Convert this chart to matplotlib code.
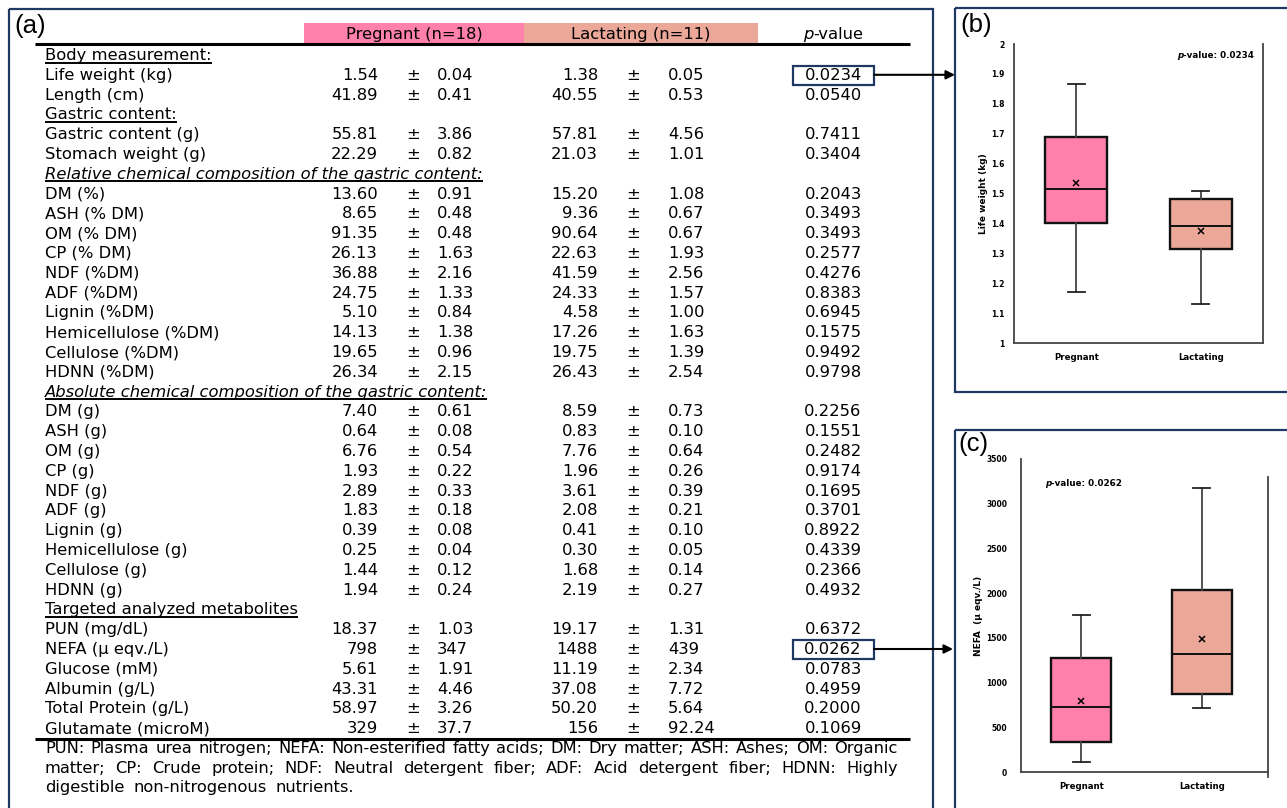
import matplotlib
matplotlib.use("Agg")
import matplotlib.pyplot as plt
from matplotlib.patches import Rectangle
from matplotlib.ticker import FuncFormatter, MultipleLocator

# ---------------- data ----------------
row_labels = [
    "Body measurement:", "Life weight (kg)", "Length (cm)",
    "Gastric content:", "Gastric content (g)", "Stomach weight (g)",
    "Relative chemical composition of the gastric content:",
    "DM (%)", "ASH (% DM)", "OM (% DM)", "CP (% DM)", "NDF (%DM)", "ADF (%DM)",
    "Lignin (%DM)", "Hemicellulose (%DM)", "Cellulose (%DM)", "HDNN (%DM)",
    "Absolute chemical composition of the gastric content:",
    "DM (g)", "ASH (g)", "OM (g)", "CP (g)", "NDF (g)", "ADF (g)", "Lignin (g)",
    "Hemicellulose (g)", "Cellulose (g)", "HDNN (g)",
    "Targeted analyzed metabolites",
    "PUN (mg/dL)", "NEFA (\u03bc eqv./L)", "Glucose (mM)", "Albumin (g/L)",
    "Total Protein (g/L)", "Glutamate (microM)",
]
section_style = {0: "normal", 3: "normal", 6: "italic", 17: "italic", 28: "normal"}
preg_mean = ["", "1.54", "41.89", "", "55.81", "22.29", "",
             "13.60", "8.65", "91.35", "26.13", "36.88", "24.75", "5.10", "14.13", "19.65", "26.34", "",
             "7.40", "0.64", "6.76", "1.93", "2.89", "1.83", "0.39", "0.25", "1.44", "1.94", "",
             "18.37", "798", "5.61", "43.31", "58.97", "329"]
preg_sd = ["", "0.04", "0.41", "", "3.86", "0.82", "",
           "0.91", "0.48", "0.48", "1.63", "2.16", "1.33", "0.84", "1.38", "0.96", "2.15", "",
           "0.61", "0.08", "0.54", "0.22", "0.33", "0.18", "0.08", "0.04", "0.12", "0.24", "",
           "1.03", "347", "1.91", "4.46", "3.26", "37.7"]
lact_mean = ["", "1.38", "40.55", "", "57.81", "21.03", "",
             "15.20", "9.36", "90.64", "22.63", "41.59", "24.33", "4.58", "17.26", "19.75", "26.43", "",
             "8.59", "0.83", "7.76", "1.96", "3.61", "2.08", "0.41", "0.30", "1.68", "2.19", "",
             "19.17", "1488", "11.19", "37.08", "50.20", "156"]
lact_sd = ["", "0.05", "0.53", "", "4.56", "1.01", "",
           "1.08", "0.67", "0.67", "1.93", "2.56", "1.57", "1.00", "1.63", "1.39", "2.54", "",
           "0.73", "0.10", "0.64", "0.26", "0.39", "0.21", "0.10", "0.05", "0.14", "0.27", "",
           "1.31", "439", "2.34", "7.72", "5.64", "92.24"]
p_values = ["", "0.0234", "0.0540", "", "0.7411", "0.3404", "",
            "0.2043", "0.3493", "0.3493", "0.2577", "0.4276", "0.8383", "0.6945", "0.1575", "0.9492", "0.9798", "",
            "0.2256", "0.1551", "0.2482", "0.9174", "0.1695", "0.3701", "0.8922", "0.4339", "0.2366", "0.4932", "",
            "0.6372", "0.0262", "0.0783", "0.4959", "0.2000", "0.1069"]
highlight_rows = [1, 30]

groups = ["Pregnant", "Lactating"]
group_headers = ["Pregnant (n=18)", "Lactating (n=11)"]
# box-plot summaries (b) and (c)
lw_stats = {"whislo": [1.17, 1.13], "q1": [1.40, 1.315], "med": [1.515, 1.39],
            "q3": [1.69, 1.48], "whishi": [1.865, 1.51], "mean": [1.535, 1.375]}
nefa_stats = {"whislo": [115, 720], "q1": [340, 875], "med": [730, 1320],
              "q3": [1270, 2035], "whishi": [1760, 3180], "mean": [790, 1488]}
footnote_lines = [
    "PUN: Plasma urea nitrogen; NEFA: Non-esterified fatty acids; DM: Dry matter; ASH: Ashes; OM: Organic",
    "matter; CP: Crude protein; NDF: Neutral detergent fiber; ADF: Acid detergent fiber; HDNN: Highly",
    "digestible non-nitrogenous nutrients.",
]

# ---------------- style ----------------
PINK = "#FF80AB"
SALMON = "#EBA899"
NAVY = "#203864"
FONT = "DejaVu Sans"
FS = 11.75

W, H = 1287, 808
fig = plt.figure(figsize=(W / 100, H / 100), dpi=100)
ax = fig.add_axes([0, 0, 1, 1])
ax.set_xlim(0, W)
ax.set_ylim(H, 0)
ax.axis("off")
renderer = fig.canvas.get_renderer()


def width_of(t):
    return t.get_window_extent(renderer).width


def txt(x, y, s, **kw):
    kw.setdefault("fontsize", FS)
    kw.setdefault("family", FONT)
    kw.setdefault("va", "baseline")
    return ax.text(x, y, s, **kw)


def segments(x, y, segs, ha="left", **kw):
    objs = [txt(0, y, s, fontstyle=st, **kw) for s, st in segs]
    ws = [width_of(o) for o in objs]
    total = sum(ws)
    if ha == "center":
        x = x - total / 2
    elif ha == "right":
        x = x - total
    for o, w in zip(objs, ws):
        o.set_x(x)
        x += w
    return objs


# panel frames
ax.add_patch(Rectangle((9, 9), 924, 820, fill=False, ec=NAVY, lw=1.6, clip_on=False))
ax.add_patch(Rectangle((955, 8), 340, 384, fill=False, ec=NAVY, lw=1.6, clip_on=False))
ax.add_patch(Rectangle((955, 430), 340, 400, fill=False, ec=NAVY, lw=1.6, clip_on=False))

# panel letters
ax.text(14, 26, "(a)", fontsize=18.5, family="Liberation Sans", va="center", ha="left")
ax.text(960, 25, "(b)", fontsize=18.5, family="Liberation Sans", va="center", ha="left")
ax.text(958, 444, "(c)", fontsize=18.5, family="Liberation Sans", va="center", ha="left")

# header
ax.add_patch(Rectangle((304, 23), 220, 20, fc=PINK, ec="none"))
ax.add_patch(Rectangle((524, 23), 234, 20, fc=SALMON, ec="none"))
txt(414, 39, group_headers[0], ha="center")
txt(641, 39, group_headers[1], ha="center")
segments(833, 39, [("p", "italic"), ("-value", "normal")], ha="center")
ax.plot([35, 910], [43.5, 43.5], color="black", lw=2.2, solid_capstyle="butt")

# rows
X_LABEL, X_M1, X_PM1, X_SD1, X_M2, X_PM2, X_SD2, X_P = 45, 378, 413, 437, 598, 633, 668, 833
Y0, DY = 60, 19.8
for i, lab in enumerate(row_labels):
    yb = Y0 + i * DY
    if i in section_style:
        t = txt(X_LABEL, yb, lab, fontstyle=section_style[i])
        w = width_of(t)
        ax.plot([X_LABEL, X_LABEL + w], [yb + 2.5, yb + 2.5], color="black", lw=1.4,
                solid_capstyle="butt")
        continue
    txt(X_LABEL, yb, lab)
    txt(X_M1, yb, preg_mean[i], ha="right")
    txt(X_PM1, yb, "\u00b1", ha="center")
    txt(X_SD1, yb, preg_sd[i], ha="left")
    txt(X_M2, yb, lact_mean[i], ha="right")
    txt(X_PM2, yb, "\u00b1", ha="center")
    txt(X_SD2, yb, lact_sd[i], ha="left")
    txt(X_P, yb, p_values[i], ha="center")

ax.plot([35, 910], [739, 739], color="black", lw=2.2, solid_capstyle="butt")

# highlight boxes + arrows
for i, x_end in zip(highlight_rows, [955, 953]):
    yb = Y0 + i * DY
    ax.add_patch(Rectangle((793, yb - 14), 81, 19, fill=False, ec=NAVY, lw=1.6))
    ya = yb - 5
    ax.annotate("", xy=(x_end, ya), xytext=(874, ya),
                arrowprops=dict(arrowstyle="-|>", color="black", lw=1.5,
                                mutation_scale=13, shrinkA=0, shrinkB=0))

# footnote (justified); font size chosen so the first line fits with near-normal spacing
probe = txt(0, 0, footnote_lines[0], fontsize=10)
nat = width_of(probe)
probe.remove()
FN_FS = 10 * (898 - 45) / nat * 0.985
space_w = None
for k, line in enumerate(footnote_lines):
    yb = 753 + k * 19.6
    words = line.split(" ")
    objs = [txt(0, yb, w_, fontsize=FN_FS) for w_ in words]
    ws = [width_of(o) for o in objs]
    if k < len(footnote_lines) - 1:
        gap = (898 - 45 - sum(ws)) / (len(words) - 1)
        space_w = gap
    else:
        gap = space_w * 0.9
    x = 45
    for o, w_ in zip(objs, ws):
        o.set_x(x)
        x += w_ + gap


# ---------------- box plots ----------------
def frac(l, t, r, b):
    return [l / W, (H - b) / H, (r - l) / W, (b - t) / H]


def make_stats(d):
    out = []
    for j, g in enumerate(groups):
        out.append(dict(label=g, whislo=d["whislo"][j], q1=d["q1"][j], med=d["med"][j],
                        q3=d["q3"][j], whishi=d["whishi"][j], mean=d["mean"][j], fliers=[]))
    return out


def draw_box(axb, stats, xlim):
    res = axb.bxp(stats, positions=[1, 2], widths=0.5, patch_artist=True, showmeans=True,
                  showfliers=False, capwidths=0.14,
                  boxprops=dict(edgecolor="#111111", linewidth=1.7),
                  medianprops=dict(color="#111111", linewidth=1.4),
                  whiskerprops=dict(color="#444444", linewidth=1.3),
                  capprops=dict(color="#222222", linewidth=1.3),
                  meanprops=dict(marker="x", markeredgecolor="black", markersize=4,
                                 markeredgewidth=1.1))
    for patch, c in zip(res["boxes"], [PINK, SALMON]):
        patch.set_facecolor(c)
    axb.set_xlim(*xlim)
    axb.spines["top"].set_visible(False)
    for s in ["left", "bottom", "right"]:
        axb.spines[s].set_color("#444444")
        axb.spines[s].set_linewidth(1.3)
    axb.tick_params(length=0, labelsize=5.5)
    axb.tick_params(axis="x", labelsize=6.2, pad=7)
    for lbl in axb.get_xticklabels() + axb.get_yticklabels():
        lbl.set_fontweight("bold")
        lbl.set_family(FONT)
    axb.patch.set_alpha(0)


# (b) life weight
axb = fig.add_axes(frac(1014, 44, 1263, 343))
draw_box(axb, make_stats(lw_stats), (0.5, 2.5))
axb.set_ylim(1, 2)
axb.yaxis.set_major_locator(MultipleLocator(0.1))
axb.yaxis.set_major_formatter(FuncFormatter(lambda v, p: f"{v:g}"))
axb.tick_params(axis="y", pad=7)
for lbl in axb.get_yticklabels():
    lbl.set_fontweight("bold")
axb.set_ylabel("Life weight (kg)", fontsize=6.5, fontweight="bold", family=FONT, labelpad=2)
tb = axb.text(0, 0, "p", fontsize=6.3, fontweight="bold", fontstyle="italic", family=FONT,
              transform=axb.transAxes, va="center")
tb2 = axb.text(0, 0, "-value: 0.0234", fontsize=6.3, fontweight="bold", family=FONT,
               transform=axb.transAxes, va="center")
w1, w2 = width_of(tb), width_of(tb2)
x_right = 1254
tb.set_position(((x_right - w1 - w2 - 1014) / 249, (343 - 55) / 299))
tb2.set_position(((x_right - w2 - 1014) / 249, (343 - 55) / 299))

# (c) NEFA
axc = fig.add_axes(frac(1021, 459, 1268, 772))
draw_box(axc, make_stats(nefa_stats), (0.5, 2.55))
axc.set_ylim(0, 3500)
axc.yaxis.set_major_locator(MultipleLocator(500))
axc.tick_params(axis="y", pad=10)
for lbl in axc.get_yticklabels():
    lbl.set_fontweight("bold")
axc.spines["right"].set_bounds(-3500 * 5 / 313, 3500 * (772 - 477) / 313)
axc.set_ylabel("NEFA  (\u03bc eqv./L)", fontsize=6.5, fontweight="bold", family=FONT, labelpad=2)
tc = axc.text(0, 0, "p", fontsize=6.3, fontweight="bold", fontstyle="italic", family=FONT,
              transform=axc.transAxes, va="center")
tc2 = axc.text(0, 0, "-value: 0.0262", fontsize=6.3, fontweight="bold", family=FONT,
               transform=axc.transAxes, va="center")
wc1 = width_of(tc)
tc.set_position(((1045 - 1021) / 247, (772 - 483) / 313))
tc2.set_position(((1045 + wc1 - 1021) / 247, (772 - 483) / 313))

fig.savefig("out.png", dpi=100)
